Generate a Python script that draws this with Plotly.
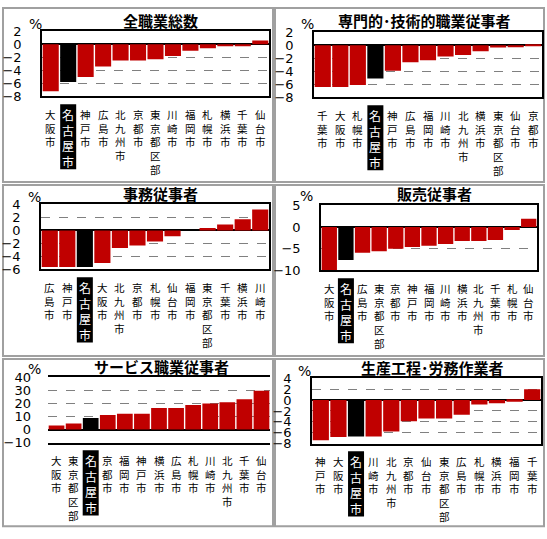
import plotly.graph_objects as go

# ── data (percent change by city) ───────────────────────────────────────
titles = ["全職業総数", "専門的･技術的職業従事者", "事務従事者",
          "販売従事者", "サービス職業従事者", "生産工程･労務作業者"]

cities_all = ["大阪市", "名古屋市", "神戸市", "広島市", "北九州市", "京都市", "東京都区部",
              "川崎市", "福岡市", "札幌市", "横浜市", "千葉市", "仙台市"]
vals_all = [-7.2, -5.8, -5.0, -3.4, -2.5, -2.5, -2.3, -1.8, -1.0, -0.6, -0.2, -0.2, 0.6]

cities_pro = ["千葉市", "大阪市", "札幌市", "名古屋市", "神戸市", "広島市", "福岡市",
              "川崎市", "北九州市", "横浜市", "東京都区部", "仙台市", "京都市"]
vals_pro = [-6.4, -6.4, -6.1, -5.1, -3.9, -2.6, -2.3, -1.7, -1.5, -0.9, -0.35, -0.25, 0.15]

cities_office = ["広島市", "神戸市", "名古屋市", "大阪市", "北九州市", "京都市", "札幌市",
                 "仙台市", "福岡市", "東京都区部", "千葉市", "横浜市", "川崎市"]
vals_office = [-5.6, -5.6, -5.6, -5.0, -2.7, -2.3, -1.7, -0.9, 0.0, 0.35, 0.9, 1.7, 3.2]

cities_sales = ["大阪市", "名古屋市", "広島市", "東京都区部", "京都市", "神戸市", "福岡市",
                "川崎市", "横浜市", "北九州市", "千葉市", "札幌市", "仙台市"]
vals_sales = [-10.0, -7.6, -5.9, -5.6, -5.0, -4.6, -4.3, -3.9, -3.2, -3.2, -3.0, -0.7, 1.9]

cities_service = ["大阪市", "東京都区部", "名古屋市", "京都市", "福岡市", "神戸市", "横浜市",
                  "広島市", "札幌市", "川崎市", "北九州市", "千葉市", "仙台市"]
vals_service = [3.0, 4.7, 8.9, 11.1, 12.1, 12.1, 16.6, 16.6, 18.8, 20.0, 21.0, 23.3, 29.7]

cities_prod = ["神戸市", "大阪市", "名古屋市", "川崎市", "北九州市", "京都市", "仙台市",
               "東京都区部", "広島市", "札幌市", "横浜市", "福岡市", "千葉市"]
vals_prod = [-7.4, -6.8, -6.7, -6.7, -5.8, -3.9, -3.4, -3.4, -2.7, -0.8, -0.6, -0.3, 2.0]

y_ranges = [(-8, 2), (-8, 2), (-6, 4), (-10, 5), (-10, 40), (-8, 4)]
y_ticks = [[2, 0, -2, -4, -6, -8], [2, 0, -2, -4, -6, -8], [4, 2, 0, -2, -4, -6],
           [5, 0, -5, -10], [40, 30, 20, 10, 0, -10], [4, 2, 0, -2, -4, -6, -8]]

panels = [
    (cities_all, vals_all), (cities_pro, vals_pro), (cities_office, vals_office),
    (cities_sales, vals_sales), (cities_service, vals_service), (cities_prod, vals_prod),
]

# ── layout geometry (pixels) ────────────────────────────────────────────
W, H = 547, 539
plot_px = [(42, 269, 25, 92), (314, 542, 26, 93), (41, 269, 203, 270),
           (321, 537, 204, 271), (48, 270, 381, 448), (312, 541, 382, 449)]
box_px = [(3, 273, 1, 180), (275, 544, 1, 180), (3, 273, 183, 359),
          (275, 544, 183, 359), (3, 273, 362, 534), (275, 544, 362, 534)]
title_px = [(160, 14), (424, 14), (160, 192), (434, 192), (161, 370), (432, 371)]
pct_px = [(35, 17), (307, 17), (34, 195), (306, 194), (34, 372), (305, 374)]

FONT = "Noto Sans CJK JP"
RED, BLACK = "#C00000", "#000000"
HL = "名古屋市"

# vertical labels: one character per line
LBL_SIZE, LBL_GAP = 10.5, 10
HL_SIZE, HL_GAP = 12, 9
HL_BOX_HALF_W, HL_BOX_H, HL_BOX_GAP = 8, 67, 8


def ypix(p):
    return 1 - p / H


fig = go.Figure()
annotations, shapes = [], []

for i, ((cats, vals), (l, r, t, b)) in enumerate(zip(panels, plot_px), start=1):
    xa, ya = f"x{i}", f"y{i}"
    fig.add_trace(go.Bar(
        x=cats, y=vals, xaxis=xa, yaxis=ya,
        marker_color=[BLACK if c == HL else RED for c in cats],
        marker_line_width=0, showlegend=False,
    ))
    lo, hi = y_ranges[i - 1]
    service = (i == 5)
    fig.layout[f"xaxis{i}"] = dict(
        domain=[l / W, r / W], anchor=ya, range=[-0.5, len(cats) - 0.5],
        showticklabels=False, ticks="", showgrid=False, zeroline=False,
        showline=True, mirror=True, linecolor="black", linewidth=1.5,
        fixedrange=True,
    )
    fig.layout[f"yaxis{i}"] = dict(
        domain=[ypix(b), ypix(t)], anchor=xa, range=[lo, hi],
        tickvals=y_ticks[i - 1], ticks="", ticklabelstandoff=16,
        tickfont=dict(family="DejaVu Sans", size=13, color="black"),
        showgrid=True, gridcolor="#808080", griddash="dash", gridwidth=1,
        zeroline=True, zerolinecolor="black", zerolinewidth=1.5,
        showline=not service, mirror=True, linecolor="black", linewidth=1.5,
        fixedrange=True,
    )

    # black box behind the highlighted city's label
    shapes.append(dict(
        type="rect", xref=xa, xsizemode="pixel", xanchor=cats.index(HL),
        x0=-HL_BOX_HALF_W, x1=HL_BOX_HALF_W,
        yref="paper", y0=ypix(b + HL_BOX_GAP + HL_BOX_H), y1=ypix(b + HL_BOX_GAP),
        fillcolor="black", line_width=0, layer="above",
    ))

    # vertical category labels under each bar
    for c in cats:
        hl = (c == HL)
        annotations.append(dict(
            x=c, xref=xa, y=ypix(b + (HL_GAP if hl else LBL_GAP)), yref="paper",
            yanchor="top", xanchor="center", showarrow=False,
            text="<br>".join(c), borderpad=0,
            font=dict(family=FONT, size=HL_SIZE if hl else LBL_SIZE,
                      color="white" if hl else "black"),
        ))

    tx, ty = title_px[i - 1]
    annotations.append(dict(
        x=tx / W, y=ypix(ty), xref="paper", yref="paper", showarrow=False,
        text=f"<b>{titles[i - 1]}</b>", font=dict(family=FONT, size=15, color="black"),
        xanchor="center", yanchor="middle",
    ))
    px_, py_ = pct_px[i - 1]
    annotations.append(dict(
        x=px_ / W, y=ypix(py_), xref="paper", yref="paper", showarrow=False,
        text="%", font=dict(family="DejaVu Sans", size=14, color="black"),
        xanchor="center", yanchor="middle",
    ))

for (x0, x1, y0, y1) in box_px:
    shapes.append(dict(
        type="rect", xref="paper", yref="paper",
        x0=x0 / W, x1=x1 / W, y0=ypix(y1), y1=ypix(y0),
        line=dict(color="#A0A0A0", width=2), fillcolor="rgba(0,0,0,0)", layer="below",
    ))

fig.update_layout(
    width=W, height=H, margin=dict(l=0, r=0, t=0, b=0),
    paper_bgcolor="white", plot_bgcolor="white",
    bargap=0.08, annotations=annotations, shapes=shapes,
    font=dict(family=FONT),
)

# the page body has a default 8px margin; drop it so the figure fills the window
fig.write_html("out.html", config={"displayModeBar": False},
               post_script="document.body.style.margin='0';")
